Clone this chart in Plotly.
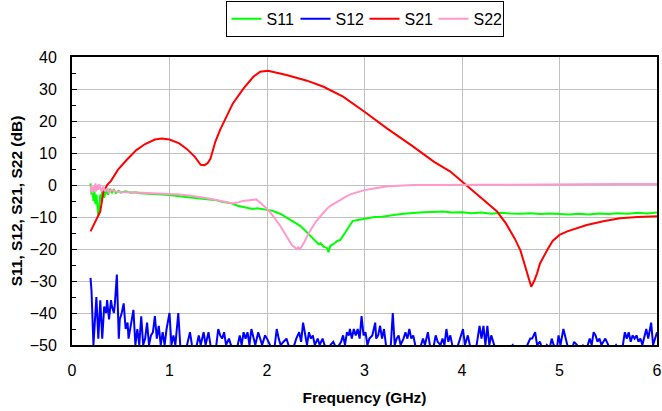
import plotly.graph_objects as go

# ---- data ----
s21_f = [0.19, 0.22, 0.26, 0.29, 0.32, 0.36, 0.40, 0.47, 0.56, 0.66, 0.75, 0.85, 0.92, 1.00, 1.10, 1.18, 1.26, 1.32, 1.36,
         1.39, 1.42, 1.44, 1.47, 1.52, 1.57, 1.65, 1.76, 1.86, 1.93, 2.01, 2.20, 2.41, 2.58, 2.78, 3.00, 3.23, 3.50, 3.71,
         3.88, 3.98, 4.05, 4.20, 4.36, 4.45, 4.54, 4.60, 4.64, 4.68, 4.71, 4.74, 4.77, 4.80, 4.84, 4.88, 4.93, 5.00,
         5.08, 5.15, 5.28, 5.45, 5.62, 5.80, 6.00]
s21_db = [-14.5, -12.5, -10.4, -8.3, -2.5, 0.0, 1.3, 4.7, 7.8, 10.9, 12.8, 14.2, 14.5, 14.2, 13.0, 11.2, 8.8, 6.3, 6.2,
          6.8, 8.2, 10.5, 13.5, 17.3, 20.3, 25.5, 30.2, 33.8, 35.4, 35.7, 34.4, 32.6, 30.7, 27.6, 22.9, 17.7, 12.0, 7.3,
          4.2, 1.6, 0.0, -4.0, -8.3, -12.0, -16.7, -20.5, -24.5, -28.5, -31.8, -30.0, -27.6, -24.5, -22.0, -20.0,
          -17.5, -15.6, -14.5, -13.8, -12.5, -11.3, -10.4, -10.0, -9.8]

s11_f = [0.19, 0.20, 0.21, 0.22, 0.23, 0.24, 0.25, 0.26, 0.27, 0.28, 0.29, 0.30, 0.31, 0.33, 0.35, 0.37, 0.39, 0.41,
         0.43, 0.45, 0.48, 0.50, 0.55, 0.60, 0.65, 0.70, 0.80, 0.90, 1.00, 1.10, 1.20, 1.30, 1.40, 1.48, 1.55, 1.62,
         1.70, 1.78, 1.85, 1.90, 1.95, 2.00, 2.05, 2.10, 2.15, 2.20, 2.25, 2.30, 2.35, 2.40, 2.42, 2.46, 2.50, 2.53,
         2.55, 2.58, 2.60, 2.62, 2.63, 2.65, 2.68, 2.72, 2.75, 2.78, 2.80, 2.83, 2.85, 2.88, 2.92, 2.96, 3.00, 3.05,
         3.10, 3.18, 3.25, 3.32, 3.40, 3.50, 3.60, 3.70, 3.80, 3.90, 4.00, 4.10, 4.20, 4.30, 4.40, 4.50, 4.60, 4.70,
         4.80, 4.90, 5.00, 5.10, 5.20, 5.30, 5.40, 5.50, 5.60, 5.70, 5.80, 5.90, 6.00]
s11_db = [0.5, -3.0, -1.0, -5.0, -2.0, -6.0, -3.0, -8.0, -9.5, -7.0, -3.0, -5.0, -2.0, -4.0, -1.5, -3.0, -1.2, -2.5,
          -1.5, -2.5, -1.8, -2.4, -2.0, -2.4, -2.3, -2.6, -2.7, -2.9, -3.1, -3.5, -3.8, -4.2, -4.5, -4.8, -5.3, -5.6,
          -6.5, -7.0, -7.5, -7.3, -7.6, -7.8, -8.0, -8.6, -9.2, -10.2, -11.0, -12.0, -13.0, -14.6, -15.0, -16.5, -17.5,
          -18.5, -18.2, -19.3, -19.5, -19.8, -21.0, -19.0, -18.5, -17.5, -17.2, -16.0, -15.0, -13.5, -12.5, -11.2,
          -11.0, -10.8, -10.6, -10.3, -10.0, -9.9, -9.5, -9.3, -9.0, -8.7, -8.5, -8.4, -8.3, -8.6, -8.5, -8.8, -8.6,
          -9.0, -8.7, -8.9, -9.0, -8.8, -9.1, -8.9, -9.0, -9.2, -9.0, -9.2, -8.9, -9.1, -8.8, -9.0, -8.7, -8.9, -8.6]

s22_f = [0.19, 0.20, 0.21, 0.22, 0.23, 0.24, 0.25, 0.26, 0.27, 0.28, 0.30, 0.32, 0.34, 0.36, 0.38, 0.40, 0.45, 0.50,
         0.60, 0.70, 0.80, 0.90, 1.00, 1.10, 1.20, 1.30, 1.40, 1.48, 1.55, 1.60, 1.65, 1.70, 1.75, 1.80, 1.85, 1.89,
         1.93, 1.97, 2.00, 2.04, 2.07, 2.10, 2.13, 2.17, 2.20, 2.23, 2.26, 2.28, 2.30, 2.32, 2.34, 2.36, 2.38, 2.42,
         2.46, 2.50, 2.54, 2.58, 2.62, 2.65, 2.70, 2.75, 2.80, 2.85, 2.92, 3.00, 3.08, 3.15, 3.22, 3.30, 3.40, 3.50,
         3.70, 3.90, 4.20, 4.50, 4.80, 5.00, 5.30, 5.60, 6.00]
s22_db = [-2.0, 0.0, -2.5, -0.5, -2.0, 0.5, -2.0, 0.0, -1.5, 0.3, -2.0, -0.5, -2.0, -1.0, -2.5, -1.5, -2.0, -2.2,
          -2.3, -2.4, -2.5, -2.6, -2.7, -3.0, -3.3, -3.7, -4.2, -4.7, -5.3, -5.5, -5.7, -5.5, -5.0, -4.8, -4.7, -4.5,
          -5.5, -6.5, -7.5, -8.8, -10.0, -11.0, -12.5, -14.5, -16.0, -17.5, -19.0, -19.3, -20.0, -19.5, -20.0, -19.0,
          -18.0, -15.5, -13.5, -11.5, -10.0, -8.5, -7.3, -6.5, -5.5, -4.7, -3.8, -3.0, -2.3, -1.6, -1.2, -0.8, -0.5,
          -0.3, -0.1, 0.0, 0.0, 0.1, 0.1, 0.1, 0.2, 0.2, 0.2, 0.3, 0.3]

s12_f = [0.19, 0.20, 0.22, 0.24, 0.25, 0.27, 0.28, 0.29, 0.31, 0.33, 0.35, 0.36, 0.38, 0.40, 0.41, 0.43, 0.44, 0.46,
         0.48, 0.49, 0.51, 0.53, 0.55, 0.57, 0.58, 0.60, 0.63, 0.65, 0.67, 0.69, 0.71, 0.73, 0.75, 0.77, 0.79, 0.81,
         0.83, 0.85, 0.87, 0.89, 0.91, 0.93, 0.95, 0.97, 1.00, 1.02, 1.04, 1.06, 1.09, 1.11, 1.14, 1.18, 1.21, 1.23,
         1.25, 1.28, 1.30, 1.32, 1.35, 1.37, 1.40, 1.42, 1.45, 1.48, 1.50, 1.52, 1.54, 1.56, 1.58, 1.61, 1.63, 1.66,
         1.70, 1.72, 1.74, 1.76, 1.78, 1.80, 1.82, 1.84, 1.86, 1.88, 1.91, 1.93, 1.95, 1.98, 2.00, 2.03, 2.06, 2.08,
         2.10, 2.12, 2.14, 2.17, 2.20, 2.22, 2.25, 2.28, 2.30, 2.33, 2.35, 2.37, 2.39, 2.41, 2.43, 2.45, 2.47, 2.49,
         2.52, 2.54, 2.57, 2.59, 2.62, 2.65, 2.68, 2.71, 2.74, 2.76, 2.78, 2.80, 2.82, 2.84, 2.85, 2.87, 2.89, 2.91,
         2.93, 2.95, 2.97, 2.99, 3.01, 3.03, 3.05, 3.08, 3.11, 3.12, 3.14, 3.16, 3.18, 3.20, 3.22, 3.25, 3.27, 3.29,
         3.31, 3.33, 3.35, 3.37, 3.40, 3.42, 3.44, 3.46, 3.48, 3.50, 3.52, 3.55, 3.58, 3.60, 3.62, 3.65, 3.67, 3.70,
         3.73, 3.75, 3.78, 3.80, 3.82, 3.84, 3.86, 3.88, 3.90, 3.93, 3.96, 4.01, 4.03, 4.06, 4.08, 4.11, 4.15, 4.18,
         4.20, 4.22, 4.24, 4.26, 4.28, 4.30, 4.33, 4.38, 4.45, 4.52, 4.55, 4.62, 4.67, 4.70, 4.72, 4.75, 4.77, 4.80,
         4.83, 4.87, 4.90, 4.92, 4.94, 4.97, 4.99, 5.01, 5.04, 5.06, 5.08, 5.12, 5.15, 5.18, 5.21, 5.24, 5.27, 5.31,
         5.33, 5.35, 5.37, 5.39, 5.41, 5.43, 5.45, 5.47, 5.50, 5.53, 5.58, 5.62, 5.65, 5.67, 5.69, 5.71, 5.73, 5.75,
         5.77, 5.79, 5.81, 5.83, 5.85, 5.87, 5.89, 5.91, 5.94, 5.96, 5.98, 6.00]
s12_db = [-29, -33, -50, -40, -35, -48, -40, -36, -48, -38, -40, -36, -42, -36, -38, -40, -37, -28,
          -48, -42, -40, -37, -45, -43, -48, -44, -39, -50, -45, -50, -41, -50, -48, -43, -50, -47,
          -46, -41, -48, -44, -50, -46, -50, -45, -40, -50, -47, -50, -40, -50, -52, -50, -46, -50,
          -52, -50, -47, -50, -46, -50, -46, -50, -52, -50, -45, -47, -48, -46, -50, -48, -50, -52,
          -50, -47, -50, -46, -48, -46, -50, -45, -48, -50, -46, -48, -50, -47, -48, -50, -52, -50,
          -45, -48, -50, -49, -48, -50, -52, -50, -48, -46, -49, -43, -47, -50, -46, -48, -47, -50,
          -48, -50, -48, -50, -52, -50, -49, -51, -50, -49, -47, -50, -46, -47, -45, -48, -45, -47,
          -45, -48, -41, -47, -46, -50, -48, -47, -43, -48, -47, -44, -48, -45, -50, -52, -50, -40,
          -50, -48, -47, -50, -48, -46, -48, -45, -48, -47, -50, -52, -50, -48, -50, -46, -50, -52,
          -47, -49, -50, -48, -50, -45, -49, -47, -50, -52, -50, -45, -50, -47, -50, -52, -50, -44,
          -48, -44, -50, -44, -50, -47, -50, -53, -52, -50, -53, -52, -50, -48, -48, -46, -50, -49,
          -52, -50, -51, -48, -50, -52, -47, -50, -45, -48, -50, -52, -49, -50, -52, -50, -52, -48,
          -50, -46, -47, -49, -48, -50, -49, -48, -50, -52, -50, -52, -50, -46, -48, -46, -49, -47,
          -48, -47, -49, -48, -50, -47, -45, -48, -43, -50, -48, -46]

series = [
    ("S11", s11_f, s11_db, "#00ff00"),
    ("S12", s12_f, s12_db, "#0000ff"),
    ("S21", s21_f, s21_db, "#ff0000"),
    ("S22", s22_f, s22_db, "#ff99cc"),
]

FONT = "Liberation Sans, Arial, sans-serif"

fig = go.Figure()
for name, f, db, col in series:
    fig.add_trace(go.Scatter(x=f, y=db, mode="lines", name=name,
                             line=dict(color=col, width=2)))

fig.update_layout(
    width=662, height=411,
    margin=dict(l=72, r=5, t=57, b=66, autoexpand=False),
    paper_bgcolor="white", plot_bgcolor="white",
    font=dict(family=FONT, size=16, color="black"),
    showlegend=True,
    legend=dict(orientation="h", x=0.5, xanchor="center", y=1.195, yanchor="top",
                bordercolor="black", borderwidth=1, font=dict(size=16),
                itemwidth=30, entrywidth=24, entrywidthmode="pixels", tracegroupgap=0),
    xaxis=dict(range=[0, 6], dtick=1, tick0=0, showgrid=True, gridcolor="#c0c0c0", gridwidth=1,
               showline=True, linecolor="black", linewidth=2, mirror=True,
               ticks="", zeroline=False, automargin=False, ticklabelstandoff=10,
               tickfont=dict(size=16),
               title=dict(text="<b>Frequency (GHz)</b>", standoff=14, font=dict(size=15.5))),
    yaxis=dict(range=[-50, 40], dtick=10, tick0=-50, showgrid=True, gridcolor="#c0c0c0", gridwidth=1,
               showline=True, linecolor="black", linewidth=2, mirror=True,
               ticks="inside", ticklen=5, tickcolor="black", zeroline=False, automargin=False,
               ticklabelstandoff=10, tickfont=dict(size=16),
               minor=dict(ticks="inside", dtick=5, ticklen=4, tickcolor="black", showgrid=False),
               title=dict(text="<b>S11, S12, S21, S22 (dB)</b>", standoff=3, font=dict(size=15.5))),
)

fig.write_html("out.html")
